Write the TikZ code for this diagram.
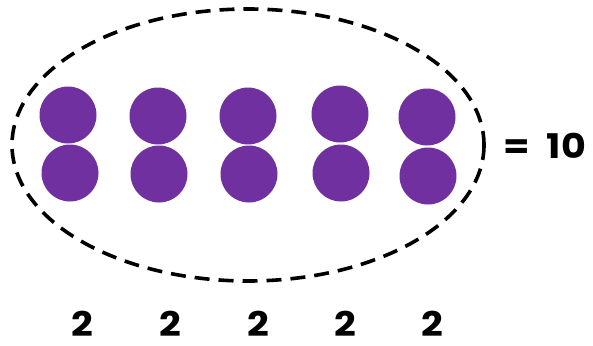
\documentclass[tikz,border=0pt]{standalone}
\usepackage{fontspec}
\newfontfamily\digitfont{Poppins}[FakeStretch=1.12]
\definecolor{dotpurple}{HTML}{7030A0}
\begin{document}
\begin{tikzpicture}[x=1pt,y=-1pt,
  dot/.style={circle,fill=dotpurple,minimum size=57pt,inner sep=0pt},
  numlabel/.style={font=\digitfont\fontsize{34}{34}\selectfont\bfseries,inner sep=0pt,anchor=base},
  group/.style={draw=black,line width=3.6pt,dash pattern=on 15pt off 9pt}]
\useasboundingbox (0,0) rectangle (593,345);
\draw[group] (248,145) ellipse [x radius=236, y radius=136];
\node[dot] (a1) at (68,115) {};
\node[dot] (a2) at (70,173) {};
\node[dot] (b1) at (158,116) {};
\node[dot] (b2) at (159,174) {};
\node[dot] (c1) at (248,116) {};
\node[dot] (c2) at (249,174) {};
\node[dot] (d1) at (340,114) {};
\node[dot] (d2) at (341,173) {};
\node[dot] (e1) at (427,117) {};
\node[dot] (e2) at (428,176) {};
\node[numlabel] (la) at (82,336) {2};
\node[numlabel] (lb) at (170,336) {2};
\node[numlabel] (lc) at (258,336) {2};
\node[numlabel] (ld) at (345,336) {2};
\node[numlabel] (le) at (432,336) {2};
\node[numlabel,anchor=base west] (sum) at (503,158) {=\hspace{0.5em}10};
\end{tikzpicture}
\end{document}
